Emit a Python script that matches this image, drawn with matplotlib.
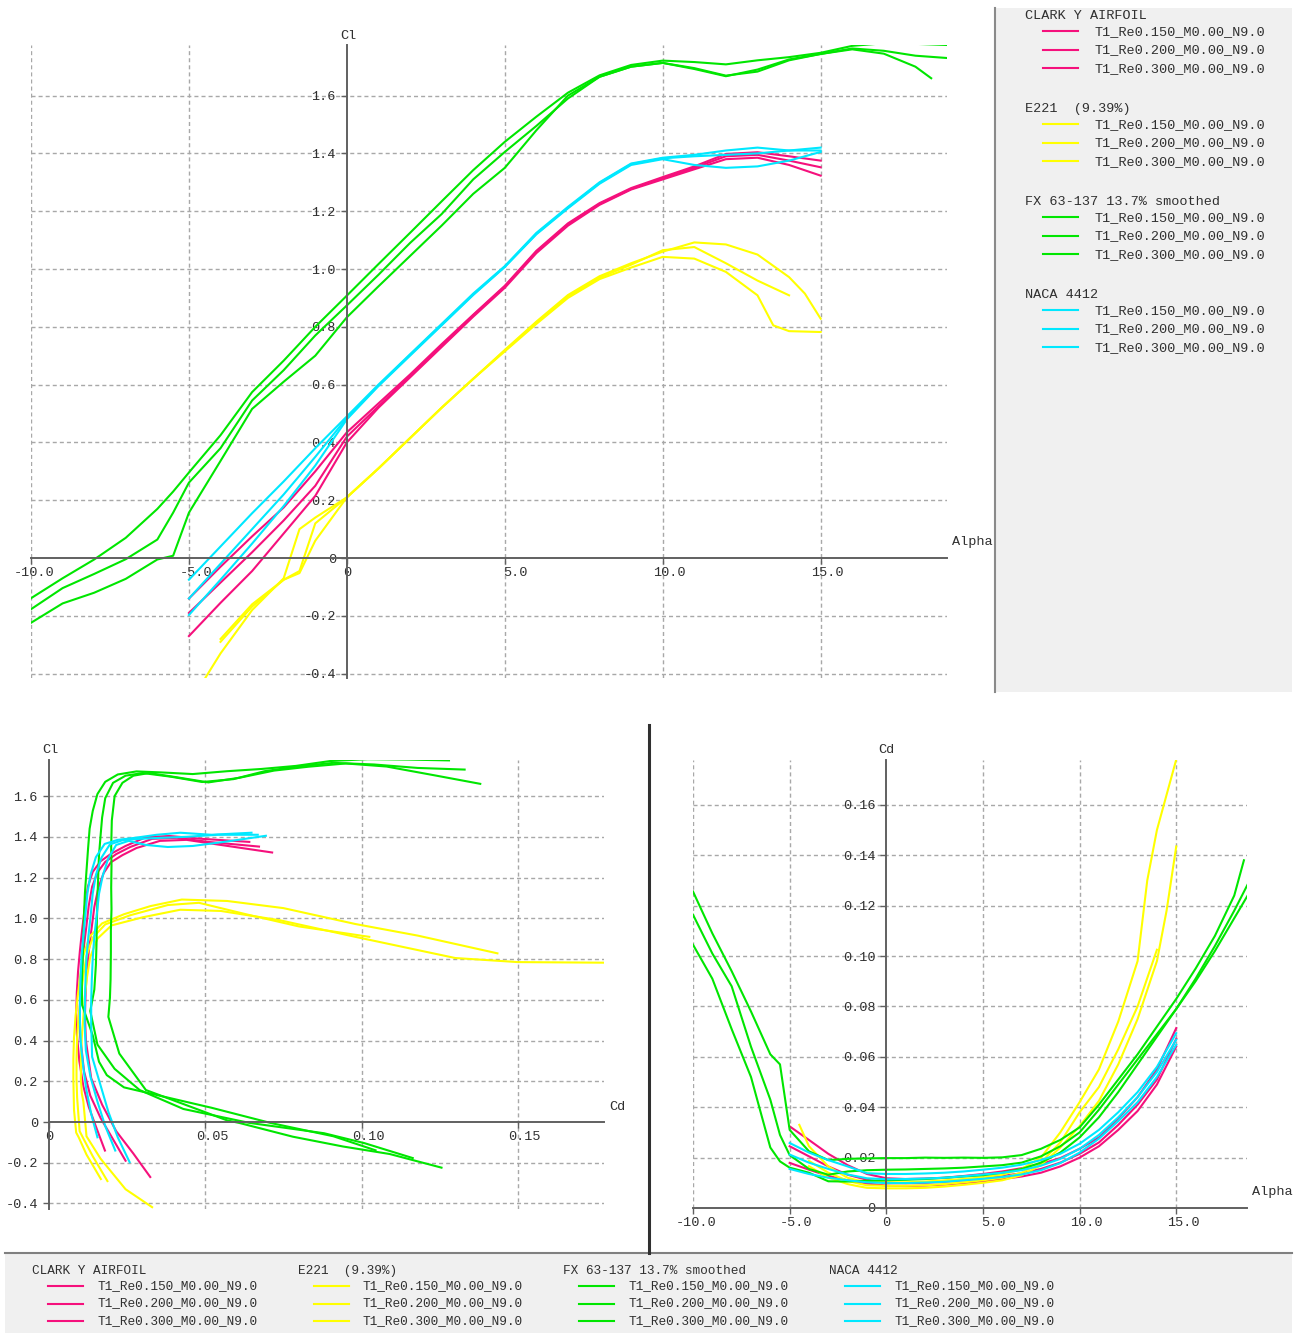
import matplotlib
matplotlib.use("Agg")
import matplotlib.pyplot as plt
from matplotlib.lines import Line2D
from matplotlib.patches import Rectangle
from matplotlib.transforms import ScaledTranslation

plt.rcParams['font.family'] = ['Liberation Mono', 'DejaVu Sans Mono']

W, H = 1304, 1333

# ---- legend text / colours
AIRFOILS = ["CLARK Y AIRFOIL", "E221  (9.39%)", "FX 63-137 13.7% smoothed", "NACA 4412"]
RE_LABELS = ["T1_Re0.150_M0.00_N9.0", "T1_Re0.200_M0.00_N9.0", "T1_Re0.300_M0.00_N9.0"]
COLORS = ["#f5107c", "#ffff00", "#00e600", "#00e8ff"]

# ---- Clark Y
CLARKY_ALPHA = [-5, -4, -3, -2, -1, 0, 1, 2, 3, 4, 5, 6, 7, 8, 9, 10, 11, 12, 13, 14, 15]
CLARKY_CL_150 = [-0.27, -0.155, -0.045, 0.085, 0.215, 0.40, 0.52, 0.625, 0.73, 0.835, 0.935, 1.055, 1.15,
                 1.222, 1.275, 1.31, 1.345, 1.38, 1.385, 1.36, 1.323]
CLARKY_CL_200 = [-0.19, -0.085, 0.02, 0.13, 0.25, 0.42, 0.525, 0.63, 0.735, 0.84, 0.94, 1.06, 1.155,
                 1.225, 1.277, 1.315, 1.35, 1.39, 1.395, 1.375, 1.352]
CLARKY_CL_300 = [-0.14, -0.03, 0.075, 0.175, 0.30, 0.435, 0.535, 0.635, 0.74, 0.842, 0.942, 1.063, 1.158,
                 1.228, 1.28, 1.318, 1.355, 1.398, 1.404, 1.39, 1.375]
CLARKY_CD_150 = [0.0324, 0.027, 0.0215, 0.017, 0.0135, 0.0118, 0.0115, 0.0117, 0.012, 0.0127, 0.0135, 0.0145,
                 0.0158, 0.0175, 0.0198, 0.0235, 0.028, 0.0355, 0.044, 0.055, 0.0714]
CLARKY_CD_200 = [0.0245, 0.0205, 0.0165, 0.0132, 0.0112, 0.0100, 0.0098, 0.0100, 0.0104, 0.011, 0.0118, 0.0127,
                 0.0138, 0.0155, 0.018, 0.0215, 0.026, 0.033, 0.041, 0.051, 0.0672]
CLARKY_CD_300 = [0.0179, 0.0152, 0.0127, 0.011, 0.0097, 0.0089, 0.0087, 0.0089, 0.0093, 0.0099, 0.0106, 0.0115,
                 0.0125, 0.014, 0.0165, 0.020, 0.0245, 0.031, 0.0385, 0.049, 0.0641]

# ---- E221
E221_ALPHA_150 = [-4.5, -4, -3, -2, -1.5, -1, 0, 1, 2, 3, 4, 5, 6, 7, 8, 9, 10, 11, 12, 13, 13.5, 14, 15]
E221_CL_150 = [-0.418, -0.33, -0.18, -0.07, 0.10, 0.14, 0.21, 0.31, 0.415, 0.52, 0.62, 0.715, 0.81, 0.90,
               0.965, 1.005, 1.042, 1.036, 0.99, 0.909, 0.805, 0.785, 0.782]
E221_CD_150 = [0.033, 0.0245, 0.0165, 0.012, 0.011, 0.0105, 0.0102, 0.0102, 0.0105, 0.011, 0.0115, 0.0122,
               0.0132, 0.0155, 0.020, 0.030, 0.042, 0.055, 0.074, 0.098, 0.130, 0.150, 0.178]
E221_ALPHA_200 = [-4, -3, -2, -1.5, -1, 0, 1, 2, 3, 4, 5, 6, 7, 8, 9, 10, 11, 12, 13, 14]
E221_CL_200 = [-0.29, -0.168, -0.075, -0.045, 0.12, 0.21, 0.31, 0.415, 0.52, 0.62, 0.718, 0.815, 0.905,
               0.97, 1.015, 1.065, 1.076, 1.02, 0.96, 0.909]
E221_CD_200 = [0.0187, 0.014, 0.0108, 0.0098, 0.009, 0.0088, 0.0088, 0.009, 0.0095, 0.0102, 0.011, 0.012,
               0.014, 0.018, 0.026, 0.038, 0.048, 0.063, 0.080, 0.1025]
E221_ALPHA_300 = [-4, -3, -2, -1.5, -1, 0, 1, 2, 3, 4, 5, 6, 7, 8, 9, 10, 11, 12, 13, 14, 14.5, 15]
E221_CL_300 = [-0.28, -0.16, -0.075, -0.052, 0.06, 0.21, 0.31, 0.415, 0.52, 0.62, 0.72, 0.818, 0.91, 0.975,
               1.02, 1.06, 1.092, 1.085, 1.05, 0.972, 0.915, 0.828]
E221_CD_300 = [0.0166, 0.012, 0.0095, 0.0087, 0.008, 0.0078, 0.0078, 0.008, 0.0085, 0.0092, 0.010, 0.011,
               0.013, 0.017, 0.024, 0.0325, 0.0425, 0.057, 0.075, 0.098, 0.118, 0.1435]

# ---- FX 63-137
FX_ALPHA_150 = [-10, -9, -8, -7, -6, -5.5, -5, -4, -3, -2, -1, 0, 1, 2, 3, 4, 5, 6, 7, 8, 9, 10, 11, 12, 13,
                14, 15, 16, 17, 18, 18.5]
FX_ALPHA = [-10, -9, -8, -7, -6, -5.5, -5, -4, -3, -2, -1, 0, 1, 2, 3, 4, 5, 6, 7, 8, 9, 10, 11, 12, 13,
            14, 15, 16, 17, 18, 19]
FX_CL_150 = [-0.224, -0.157, -0.12, -0.072, -0.005, 0.008, 0.157, 0.336, 0.516, 0.61, 0.70, 0.833, 0.94,
             1.045, 1.15, 1.26, 1.35, 1.48, 1.60, 1.665, 1.70, 1.713, 1.692, 1.667, 1.69, 1.725, 1.744, 1.76,
             1.745, 1.70, 1.66]
FX_CL_200 = [-0.177, -0.104, -0.055, -0.004, 0.064, 0.157, 0.261, 0.38, 0.545, 0.65, 0.77, 0.874, 0.98,
             1.09, 1.19, 1.31, 1.405, 1.495, 1.59, 1.665, 1.70, 1.713, 1.695, 1.669, 1.683, 1.722, 1.744,
             1.763, 1.755, 1.738, 1.73]
FX_CL_300 = [-0.139, -0.07, -0.005, 0.07, 0.17, 0.23, 0.296, 0.425, 0.574, 0.683, 0.80, 0.908, 1.017,
             1.125, 1.234, 1.342, 1.44, 1.527, 1.61, 1.67, 1.706, 1.721, 1.716, 1.708, 1.722, 1.733, 1.748,
             1.772, 1.781, 1.779, 1.775]
FX_CD_150 = [0.1256, 0.109, 0.094, 0.078, 0.061, 0.057, 0.031, 0.0225, 0.019, 0.0195, 0.0197, 0.0198,
             0.0198, 0.0200, 0.0199, 0.0200, 0.0199, 0.0201, 0.021, 0.0235, 0.027, 0.032, 0.041, 0.051, 0.061,
             0.072, 0.083, 0.095, 0.108, 0.124, 0.138]
FX_CD_200 = [0.1164, 0.101, 0.088, 0.064, 0.043, 0.029, 0.021, 0.0155, 0.0132, 0.0145, 0.015, 0.0152,
             0.0153, 0.0155, 0.0157, 0.016, 0.0165, 0.017, 0.018, 0.0205, 0.0245, 0.030, 0.039, 0.049, 0.059,
             0.069, 0.079, 0.091, 0.104, 0.118, 0.133]
FX_CD_300 = [0.1045, 0.091, 0.071, 0.052, 0.024, 0.0185, 0.016, 0.014, 0.0106, 0.0105, 0.0108, 0.011,
             0.0112, 0.0115, 0.012, 0.0125, 0.013, 0.014, 0.0155, 0.018, 0.022, 0.028, 0.036, 0.046, 0.057,
             0.068, 0.079, 0.090, 0.102, 0.115, 0.128]

# ---- NACA 4412
NACA_ALPHA = [-5, -4, -3, -2, -1, 0, 1, 2, 3, 4, 5, 6, 7, 8, 9, 10, 11, 12, 13, 14, 15]
NACA_CL_150 = [-0.197, -0.075, 0.05, 0.18, 0.32, 0.48, 0.595, 0.70, 0.805, 0.91, 1.007, 1.12, 1.21, 1.295,
               1.36, 1.38, 1.36, 1.35, 1.355, 1.375, 1.405]
NACA_CL_200 = [-0.14, -0.02, 0.10, 0.22, 0.35, 0.485, 0.597, 0.703, 0.807, 0.912, 1.008, 1.122, 1.212, 1.298,
               1.363, 1.383, 1.39, 1.395, 1.40, 1.41, 1.41]
NACA_CL_300 = [-0.075, 0.04, 0.155, 0.265, 0.38, 0.49, 0.60, 0.705, 0.81, 0.915, 1.01, 1.125, 1.215, 1.30,
               1.365, 1.385, 1.395, 1.41, 1.42, 1.41, 1.42]
NACA_CD_150 = [0.0258, 0.022, 0.019, 0.0165, 0.0138, 0.0135, 0.0135, 0.0137, 0.014, 0.0145, 0.0152, 0.016,
               0.0172, 0.019, 0.0215, 0.0255, 0.031, 0.038, 0.046, 0.056, 0.0694]
NACA_CD_200 = [0.0212, 0.018, 0.0155, 0.0133, 0.0118, 0.0114, 0.0115, 0.0117, 0.012, 0.0126, 0.0133, 0.014,
               0.015, 0.0168, 0.0195, 0.0235, 0.029, 0.036, 0.044, 0.054, 0.0668]
NACA_CD_300 = [0.0155, 0.0135, 0.012, 0.011, 0.0102, 0.0099, 0.0099, 0.0101, 0.0104, 0.011, 0.0116, 0.0123,
               0.0133, 0.015, 0.0178, 0.022, 0.0275, 0.0345, 0.042, 0.052, 0.0648]

POLARS = [
    (COLORS[0], [(CLARKY_ALPHA, CLARKY_CL_150, CLARKY_CD_150),
                 (CLARKY_ALPHA, CLARKY_CL_200, CLARKY_CD_200),
                 (CLARKY_ALPHA, CLARKY_CL_300, CLARKY_CD_300)]),
    (COLORS[1], [(E221_ALPHA_150, E221_CL_150, E221_CD_150),
                 (E221_ALPHA_200, E221_CL_200, E221_CD_200),
                 (E221_ALPHA_300, E221_CL_300, E221_CD_300)]),
    (COLORS[2], [(FX_ALPHA_150, FX_CL_150, FX_CD_150),
                 (FX_ALPHA, FX_CL_200, FX_CD_200),
                 (FX_ALPHA, FX_CL_300, FX_CD_300)]),
    (COLORS[3], [(NACA_ALPHA, NACA_CL_150, NACA_CD_150),
                 (NACA_ALPHA, NACA_CL_200, NACA_CD_200),
                 (NACA_ALPHA, NACA_CL_300, NACA_CD_300)]),
]

ALPHA_TICKS = [-10, -5, 0, 5, 10, 15]
ALPHA_LABELS = ["-10.0", "-5.0", "0", "5.0", "10.0", "15.0"]
CL_TICKS = [-0.4, -0.2, 0, 0.2, 0.4, 0.6, 0.8, 1.0, 1.2, 1.4, 1.6]
CL_LABELS = ["-0.4", "-0.2", "0", "0.2", "0.4", "0.6", "0.8", "1.0", "1.2", "1.4", "1.6"]
CD_TICKS = [0, 0.05, 0.10, 0.15]
CD_LABELS = ["0", "0.05", "0.10", "0.15"]
CDY_TICKS = [0, 0.02, 0.04, 0.06, 0.08, 0.10, 0.12, 0.14, 0.16]
CDY_LABELS = ["0", "0.02", "0.04", "0.06", "0.08", "0.10", "0.12", "0.14", "0.16"]

AXIS_COLOR = "#606060"
GRID_COLOR = "#a8a8a8"
TEXT_COLOR = "#303030"
PANEL_COLOR = "#f0f0f0"
FS = 9.7

fig = plt.figure(figsize=(W / 100, H / 100), dpi=100, facecolor="white")


def fx(x):
    return x / W


def fy(y):
    return 1 - y / H


def axes_at(left, top, right, bottom):
    return fig.add_axes([fx(left), fy(bottom), (right - left) / W, (bottom - top) / H])


def style_axes(ax, xlim, ylim, xticks, xlabels, yticks, ylabels):
    ax.set_xlim(xlim)
    ax.set_ylim(ylim)
    ax.patch.set_alpha(0)
    ax.spines['top'].set_visible(False)
    ax.spines['right'].set_visible(False)
    ax.spines['left'].set_position(('data', 0))
    ax.spines['bottom'].set_position(('data', 0))
    for s in ['left', 'bottom']:
        ax.spines[s].set_color(AXIS_COLOR)
        ax.spines[s].set_linewidth(1.4)
    for v in xticks:
        if v != 0:
            ax.axvline(v, color=GRID_COLOR, lw=1.0, ls=(0, (2.9, 2.2)), zorder=0)
    for v in yticks:
        if v != 0:
            ax.axhline(v, color=GRID_COLOR, lw=1.0, ls=(0, (2.9, 2.2)), zorder=0)
    ax.set_xticks(xticks)
    ax.set_xticklabels(xlabels)
    ax.set_yticks(yticks)
    ax.set_yticklabels(ylabels)
    ax.tick_params(axis='both', direction='out', length=4.5, width=1, color=AXIS_COLOR,
                   labelsize=FS, labelcolor=TEXT_COLOR)
    ax.tick_params(axis='x', pad=2)
    ax.tick_params(axis='y', pad=3.5)
    shift = ScaledTranslation(23 / 100, 0, fig.dpi_scale_trans)
    for lab in ax.get_xticklabels():
        if lab.get_text() != "0":
            lab.set_horizontalalignment('right')
            lab.set_transform(lab.get_transform() + shift)


# ---- background panels
fig.add_artist(Rectangle((fx(995), fy(692)), (1292 - 995) / W, (692 - 8) / H, transform=fig.transFigure,
                         facecolor=PANEL_COLOR, edgecolor='none', zorder=-2))
fig.add_artist(Line2D([fx(995), fx(995)], [fy(8), fy(692)], color="#8a8a8a", lw=1.5, zorder=-1))
fig.add_artist(Rectangle((fx(5), 0), (1292 - 5) / W, (H - 1254) / H, transform=fig.transFigure,
                         facecolor=PANEL_COLOR, edgecolor='none', zorder=-2))
fig.add_artist(Line2D([fx(5), fx(1292)], [fy(1253), fy(1253)], color="#808080", lw=1.5, zorder=-1))
fig.add_artist(Line2D([fx(649), fx(649)], [fy(725), fy(1253)], color="#303030", lw=2.2, zorder=-1))

# ---- Cl vs alpha
ax1 = axes_at(31, 45, 947, 678)
style_axes(ax1, (-10, 19.0), (-0.415, 1.775), ALPHA_TICKS, ALPHA_LABELS, CL_TICKS, CL_LABELS)
# ---- Cl vs Cd
ax2 = axes_at(49, 760, 604, 1209)
style_axes(ax2, (0, 0.1776), (-0.427, 1.777), CD_TICKS, CD_LABELS, CL_TICKS, CL_LABELS)
# ---- Cd vs alpha
ax3 = axes_at(693, 760, 1247, 1208)
style_axes(ax3, (-10, 18.66), (0, 0.1778), ALPHA_TICKS, ALPHA_LABELS, CDY_TICKS, CDY_LABELS)

for color, polars in POLARS:
    for alpha, cl, cd in polars:
        ax1.plot(alpha, cl, color=color, lw=1.5, solid_joinstyle='round')
        ax2.plot(cd, cl, color=color, lw=1.5, solid_joinstyle='round')
        ax3.plot(alpha, cd, color=color, lw=1.5, solid_joinstyle='round')

# ---- axis names
for x, y, s, ha in [(348, 36, "Cl", 'center'), (952, 542, "Alpha", 'left'),
                    (50, 750, "Cl", 'center'), (609, 1107, "Cd", 'left'),
                    (886, 750, "Cd", 'center'), (1252, 1192, "Alpha", 'left')]:
    fig.text(fx(x), fy(y), s, ha=ha, va='center', fontsize=FS, color=TEXT_COLOR)

# ---- right legend
for gi, (name, color) in enumerate(zip(AIRFOILS, COLORS)):
    ty = 16 + 93 * gi
    fig.text(fx(1025), fy(ty), name, ha='left', va='center', fontsize=FS, color=TEXT_COLOR)
    for ri, re_lab in enumerate(RE_LABELS):
        ly = ty + 15 + 18.5 * ri
        fig.add_artist(Line2D([fx(1043), fx(1078)], [fy(ly), fy(ly)], color=color, lw=1.5))
        fig.text(fx(1095), fy(ly + 1), re_lab, ha='left', va='center', fontsize=FS, color=TEXT_COLOR)

# ---- bottom legend
for gi, (name, color) in enumerate(zip(AIRFOILS, COLORS)):
    tx = 32 + 265.7 * gi
    fig.text(fx(tx), fy(1271), name, ha='left', va='center', fontsize=9.2, color=TEXT_COLOR)
    for ri, re_lab in enumerate(RE_LABELS):
        ly = 1286 + 17.5 * ri
        fig.add_artist(Line2D([fx(tx + 16), fx(tx + 51)], [fy(ly), fy(ly)], color=color, lw=1.5))
        fig.text(fx(tx + 65), fy(ly), re_lab, ha='left', va='center', fontsize=9.2, color=TEXT_COLOR)

fig.savefig("out.png", dpi=100)
